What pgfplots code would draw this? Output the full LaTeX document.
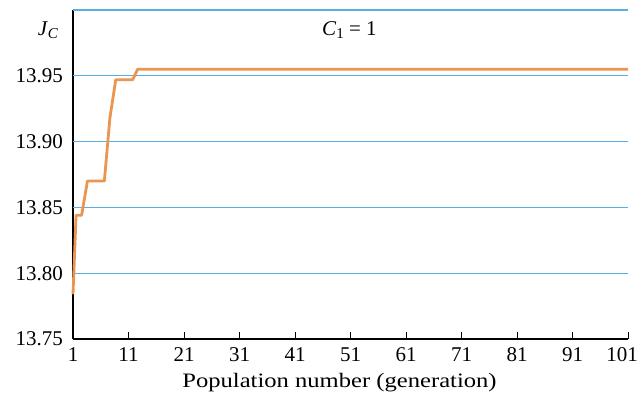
\documentclass[border=0pt]{standalone}
\usepackage{fontspec}
\setmainfont{Liberation Serif}
\newfontfamily\tickfont{Liberation Serif}
\newfontfamily\labfont[FakeStretch=1.2]{Liberation Serif}
\usepackage{pgfplots}
\pgfplotsset{compat=1.18}
\definecolor{gridblue}{HTML}{5AAEE2}
\definecolor{curveorange}{HTML}{EA9550}
\begin{document}
\fontsize{21}{24}\selectfont
\begin{tikzpicture}
\begin{axis}[
  scale only axis,
  width=555pt, height=329pt,
  xmin=1, xmax=101, ymin=13.75, ymax=14.00,
  axis x line=bottom, axis y line=left,
  axis line style={-, line width=1.3pt, black},
  xtick={1,11,...,101},
  xticklabels={1,11,21,31,41,51,61,71,81,91,\hspace*{-12pt}101},
  ytick={13.75,13.80,13.85,13.90,13.95},
  tick align=inside,
  major tick length=7pt,
  xtick style={black, line width=1pt},
  ytick style={draw=none},
  /pgf/number format/assume math mode=true,
  yticklabel style={inner sep=0pt, xshift=-10pt, /pgf/number format/.cd, fixed, fixed zerofill, precision=2},
  tick label style={font=\fontsize{21}{24}\tickfont},
  xticklabel style={inner sep=0pt, yshift=-8pt},
  xlabel={Population number (generation)},
  xlabel style={font=\fontsize{20.5}{24}\labfont, inner sep=0pt, anchor=base, at={(axis description cs:0.5,0)}, yshift=-48pt, xshift=-11pt},
  clip=false,
]
\addplot[color=gridblue, line width=1.2pt, forget plot] coordinates {(1,13.80) (101,13.80)};
\addplot[color=gridblue, line width=1.2pt, forget plot] coordinates {(1,13.85) (101,13.85)};
\addplot[color=gridblue, line width=1.2pt, forget plot] coordinates {(1,13.90) (101,13.90)};
\addplot[color=gridblue, line width=1.2pt, forget plot] coordinates {(1,13.95) (101,13.95)};
\addplot[color=gridblue, line width=1.2pt, forget plot] coordinates {(1,14.00) (101,14.00)};
\addplot[curveorange, line width=2.8pt, line join=round] coordinates {
(1,13.784) (1.55,13.844) (2.55,13.844) (3.6,13.870) (6.65,13.870)
(7.65,13.918) (8.7,13.947) (11.75,13.947) (12.65,13.955) (101,13.955)
};
\node[font=\fontsize{21}{24}\tickfont, inner sep=0pt] at ([xshift=-25pt,yshift=-20pt]rel axis cs:0,1) {\textit{J}\raisebox{-0.35ex}{\fontsize{15}{18}\tickfont\textit{C}}};
\node[font=\fontsize{21}{24}\tickfont, inner sep=0pt] at ([yshift=-20pt]rel axis cs:0.498,1) {\textit{C}\raisebox{-0.4ex}{\fontsize{15}{18}\tickfont 1} = 1};
\end{axis}
\path ([xshift=-73pt,yshift=-57pt]current axis.south west) rectangle ([xshift=14pt,yshift=10pt]current axis.north east);
\end{tikzpicture}
\end{document}
